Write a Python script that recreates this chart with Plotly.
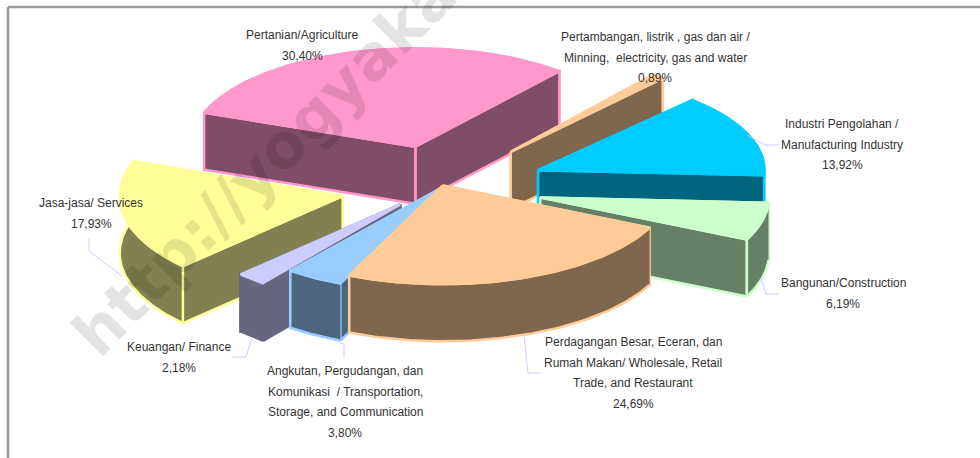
import numpy as np
import plotly.graph_objects as go

# ---- data ----
categories = [
    ["Pertanian/Agriculture"],
    ["Pertambangan, listrik , gas dan air /", "Minning,\u00a0 electricity, gas and water"],
    ["Industri Pengolahan /", "Manufacturing Industry"],
    ["Bangunan/Construction"],
    ["Perdagangan Besar, Eceran, dan", "Rumah Makan/ Wholesale, Retail", "Trade, and Restaurant"],
    ["Angkutan, Pergudangan, dan", "Komunikasi\u00a0 / Transportation,", "Storage, and Communication"],
    ["Keuangan/ Finance"],
    ["Jasa-jasa/ Services"],
]
values = [30.40, 0.89, 13.92, 6.19, 24.69, 3.80, 2.18, 17.93]

# ---- style and layout of the exploded pie ----
top_colors = ["#ff99cc", "#ffcc99", "#00ccff", "#ccffcc", "#ffcc99", "#99ccff", "#ccccff", "#ffff99"]
wall_colors = ["#804d66", "#80664d", "#006680", "#668066", "#80664d", "#4d6680", "#666680", "#808050"]
wall_edges = ["#ff99cc", "#ffcc99", "#00ccff", "#ccffcc", "#ffcc99", "#99ccff", "#666680", "#ffff99"]
explode = [0.41, 0.46, 0.46, 0.45, 0.0, 0.0, 0.28, 0.46]
nudge_x = [-4, 0, 0, 0, 0, -2, -1, 0]
nudge_y = [0, 0, 1, 0, -1, 1.5, -3, 0]
radius_scale = [1.01, 1, 1.015, 1.025, 1.025, 1.10, 1, 1]
tilt_scale = [0.97, 1, 0.94, 0.95, 0.96, 0.95, 1, 1]
draw_order = [0, 1, 2, 7, 3, 6, 5, 4]
first_angle = -69.7
CX, CY, R, TILT, DEPTH = 443, 186.5, 223, 0.45, 57
label_x = [302, 655, 842, 843, 633, 345, 179, 91]
label_y = [35, 37, 124, 283, 342, 371, 347, 203]
line_gap = 20.7
leader_x = [None, None, [747, 765, 779], [761, 766, 779], [524, 528, 541], [340, 344, 344], [252, 246, 232], [122, 89, 89]]
leader_y = [None, None, [135, 145, 145], [278, 294, 294], [335, 373, 373], [343, 344, 358], [338, 357, 357], [276, 251, 238]]


def project(angle, radius=R, tilt=TILT):
    a = np.radians(angle)
    return radius * np.sin(a), -radius * tilt * np.cos(a)


fig = go.Figure()


def face(xs, ys, fill, edge):
    fig.add_trace(go.Scatter(x=list(xs), y=list(ys), mode="lines", fill="toself", fillcolor=fill,
                             line=dict(color=edge, width=2.5), hoverinfo="skip", showlegend=False))


total = sum(values)
starts = first_angle + 360 * np.cumsum([0] + values[:-1]) / total
spans = 360 * np.array(values) / total

for i in draw_order:
    a0, span = starts[i], spans[i]
    dx, dy = project(a0 + span / 2, R * explode[i])
    ax, ay = CX + dx + nudge_x[i], CY + dy + nudge_y[i]
    th = np.linspace(a0, a0 + span, 80)
    px, py = project(th, R * radius_scale[i], TILT * tilt_scale[i])
    arc_x, arc_y = ax + px, ay + py
    walls = [
        (np.r_[arc_x, arc_x[::-1]], np.r_[arc_y, arc_y[::-1] + DEPTH]),
        (np.array([ax, arc_x[0], arc_x[0], ax, ax]), np.array([ay, arc_y[0], arc_y[0] + DEPTH, ay + DEPTH, ay])),
        (np.array([ax, arc_x[-1], arc_x[-1], ax, ax]), np.array([ay, arc_y[-1], arc_y[-1] + DEPTH, ay + DEPTH, ay])),
    ]
    for wx, wy in sorted(walls, key=lambda w: w[1].mean()):
        face(wx, wy, wall_colors[i], wall_edges[i])
    face(np.r_[ax, arc_x, ax], np.r_[ay, arc_y, ay], top_colors[i], top_colors[i])

for lx, ly in zip(leader_x, leader_y):
    if lx:
        fig.add_trace(go.Scatter(x=lx, y=ly, mode="lines", line=dict(color="#ccccff", width=1),
                                 hoverinfo="skip", showlegend=False))

annotations = []
for i, lines in enumerate(categories):
    texts = lines + [f"{values[i]:.2f}%".replace(".", ",")]
    for j, t in enumerate(texts):
        annotations.append(dict(x=label_x[i], y=label_y[i] + j * line_gap, text=t, showarrow=False,
                                xanchor="center", yanchor="middle",
                                font=dict(family="Liberation Sans", size=12, color="#333333")))
annotations.append(dict(x=300, y=128, text="<b>http://yogyakarta</b>", textangle=-45, showarrow=False,
                        xanchor="center", yanchor="middle",
                        font=dict(family="DejaVu Sans", size=62, color="rgba(0,0,0,0.11)")))

shapes = [
    dict(type="line", x0=8, x1=8, y0=7, y1=458, line=dict(color="#999999", width=2.5)),
    dict(type="line", x0=8, x1=980, y0=7, y1=7, line=dict(color="#999999", width=2.5)),
]

fig.update_layout(
    width=980, height=458, margin=dict(l=0, r=0, t=0, b=0), paper_bgcolor="white", plot_bgcolor="white",
    xaxis=dict(range=[0, 980], visible=False, fixedrange=True),
    yaxis=dict(range=[458, 0], visible=False, fixedrange=True),
    showlegend=False, annotations=annotations, shapes=shapes,
)
fig.write_html("out.html", post_script="document.body.style.margin='0';", config={"displayModeBar": False})
